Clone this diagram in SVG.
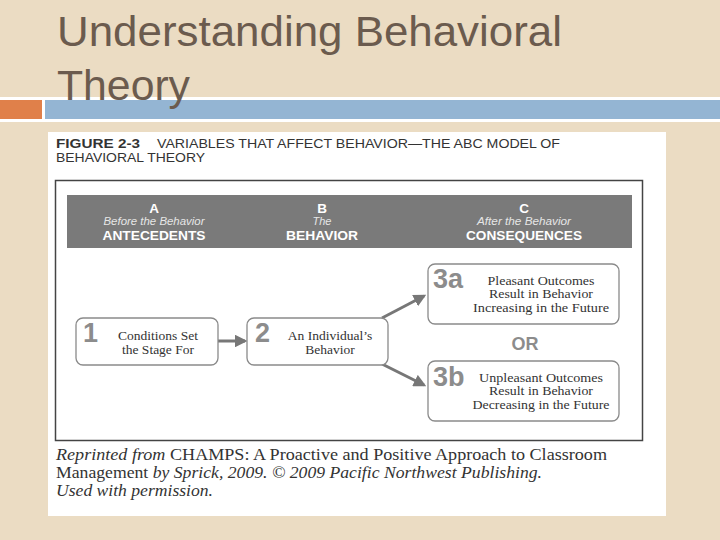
<svg xmlns="http://www.w3.org/2000/svg" width="720" height="540" viewBox="0 0 720 540">
<defs>
<style>
.title{font-family:"Liberation Sans",Arial,sans-serif;font-size:43px;fill:#6b5b4e}
.fig{font-family:"Liberation Sans",Arial,sans-serif;font-size:13.5px;fill:#333}
.hb{font-family:"Liberation Sans",Arial,sans-serif;font-weight:bold;fill:#fff;text-anchor:middle}
.hi{font-family:"Liberation Sans",Arial,sans-serif;font-style:italic;font-size:11px;fill:#e6e6e6;text-anchor:middle}
.box{fill:#fff;stroke:#8a8a8a;stroke-width:1.3}
.num{font-family:"Liberation Sans",Arial,sans-serif;font-weight:bold;font-size:27px;fill:#8c8c8c}
.bt{font-family:"Liberation Serif","Times New Roman",serif;font-size:13.5px;fill:#333;text-anchor:middle}
.bs{font-family:"Liberation Serif","Times New Roman",serif;font-size:12.5px;fill:#333;text-anchor:middle}
.cap{font-family:"Liberation Serif","Times New Roman",serif;font-size:17px;fill:#333}
.arr{stroke:#777;stroke-width:3;fill:none;marker-end:url(#ah)}
</style>
<marker id="ah" viewBox="0 0 10 10" refX="8" refY="5" markerWidth="4.2" markerHeight="4.2" orient="auto" markerUnits="strokeWidth">
<path d="M0,0 L10,5 L0,10 z" fill="#777"/>
</marker>
</defs>
<rect width="720" height="540" fill="#ebdcc3"/>
<text class="title" x="57" y="46" textLength="505" lengthAdjust="spacingAndGlyphs">Understanding Behavioral</text>
<rect x="0" y="97" width="720" height="25" fill="#fff"/>
<rect x="0" y="100" width="42" height="19" fill="#e0804a"/>
<rect x="45" y="100" width="675" height="19" fill="#94b5d3"/>
<text class="title" x="57" y="100" textLength="133" lengthAdjust="spacingAndGlyphs">Theory</text>
<rect x="48" y="132" width="618" height="384" fill="#fff"/>
<text class="fig" x="56" y="148"><tspan font-weight="bold" textLength="84" lengthAdjust="spacingAndGlyphs">FIGURE 2-3</tspan><tspan x="157" textLength="403" lengthAdjust="spacingAndGlyphs">VARIABLES THAT AFFECT BEHAVIOR—THE ABC MODEL OF</tspan></text>
<text class="fig" x="56" y="162" textLength="149" lengthAdjust="spacingAndGlyphs">BEHAVIORAL THEORY</text>
<rect x="55.5" y="180.5" width="587" height="260" fill="none" stroke="#444" stroke-width="1.5"/>
<g id="header">
<rect x="67" y="195" width="565" height="53" fill="#7a7a7a"/>
<text class="hb" x="154" y="213" font-size="13.5">A</text>
<text class="hi" x="154" y="225" textLength="101" lengthAdjust="spacingAndGlyphs">Before the Behavior</text>
<text class="hb" x="154" y="240" font-size="13.5" textLength="103" lengthAdjust="spacingAndGlyphs">ANTECEDENTS</text>
<text class="hb" x="322" y="213" font-size="13.5">B</text>
<text class="hi" x="322" y="225">The</text>
<text class="hb" x="322" y="240" font-size="13.5" textLength="72" lengthAdjust="spacingAndGlyphs">BEHAVIOR</text>
<text class="hb" x="524" y="213" font-size="13.5">C</text>
<text class="hi" x="524" y="225" textLength="94" lengthAdjust="spacingAndGlyphs">After the Behavior</text>
<text class="hb" x="524" y="240" font-size="13.5" textLength="116" lengthAdjust="spacingAndGlyphs">CONSEQUENCES</text>
</g>
<g id="connectors">
<line class="arr" x1="218" y1="341" x2="245" y2="341"/>
<line class="arr" x1="382" y1="318" x2="424" y2="296"/>
<line class="arr" x1="382" y1="364" x2="424" y2="385"/>
</g>
<g id="n1">
<rect class="box" x="76" y="318" width="142" height="47" rx="7"/>
<text class="num" x="83" y="342">1</text>
<text class="bt" x="158" y="340">Conditions Set</text>
<text class="bt" x="158" y="354">the Stage For</text>
</g>
<g id="n2">
<rect class="box" x="247" y="318" width="141" height="47" rx="7"/>
<text class="num" x="255" y="342">2</text>
<text class="bt" x="330" y="340">An Individual’s</text>
<text class="bt" x="330" y="354">Behavior</text>
</g>
<g id="n3a">
<rect class="box" x="428" y="264" width="191" height="60" rx="7"/>
<text class="num" x="433" y="288">3a</text>
<text class="bs" x="541" y="284.5" textLength="107" lengthAdjust="spacingAndGlyphs">Pleasant Outcomes</text>
<text class="bs" x="541" y="298" textLength="104" lengthAdjust="spacingAndGlyphs">Result in Behavior</text>
<text class="bs" x="541" y="311.5" textLength="136" lengthAdjust="spacingAndGlyphs">Increasing in the Future</text>
</g>
<text x="525" y="350" font-family="Liberation Sans,Arial,sans-serif" font-weight="bold" font-size="18" fill="#8c8c8c" text-anchor="middle">OR</text>
<g id="n3b">
<rect class="box" x="428" y="361" width="191" height="60" rx="7"/>
<text class="num" x="433" y="386">3b</text>
<text class="bs" x="541" y="381.5" textLength="124" lengthAdjust="spacingAndGlyphs">Unpleasant Outcomes</text>
<text class="bs" x="541" y="395" textLength="104" lengthAdjust="spacingAndGlyphs">Result in Behavior</text>
<text class="bs" x="541" y="408.5" textLength="137" lengthAdjust="spacingAndGlyphs">Decreasing in the Future</text>
</g>
<text class="cap" x="56" y="460" textLength="551" lengthAdjust="spacingAndGlyphs"><tspan font-style="italic">Reprinted from</tspan> CHAMPS: A Proactive and Positive Approach to Classroom</text>
<text class="cap" x="56" y="478" textLength="486" lengthAdjust="spacingAndGlyphs">Management <tspan font-style="italic">by Sprick, 2009. © 2009 Pacific Northwest Publishing.</tspan></text>
<text class="cap" x="56" y="496" font-style="italic" textLength="157" lengthAdjust="spacingAndGlyphs">Used with permission.</text>
</svg>
